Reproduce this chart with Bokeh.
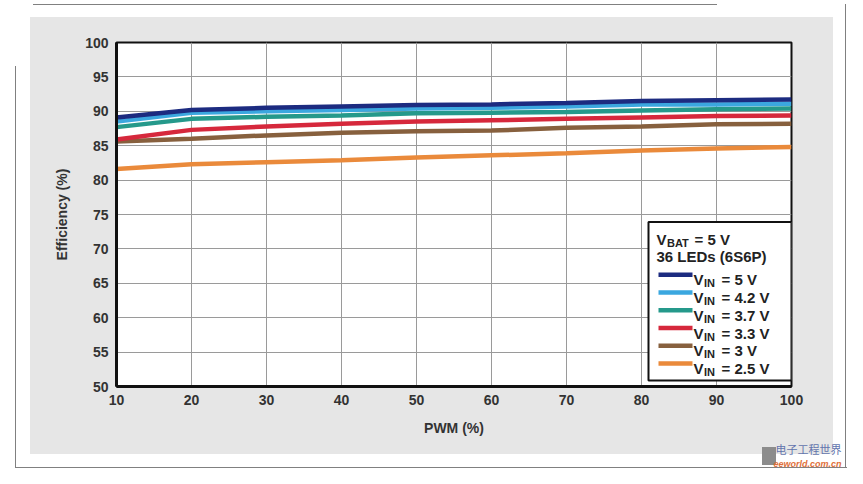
from bokeh.plotting import figure
from bokeh.models import BoxAnnotation, Label, FixedTicker, Range1d, Title
from bokeh.embed import file_html
from bokeh.resources import INLINE

# efficiency vs PWM duty, VBAT = 5 V, 36 LEDs (6S6P)
pwm = [10, 20, 30, 40, 50, 60, 70, 80, 90, 100]
vin_5 = [89.1, 90.2, 90.5, 90.7, 90.9, 91.0, 91.2, 91.5, 91.6, 91.7]
vin_4v2 = [88.5, 89.8, 90.0, 90.2, 90.4, 90.5, 90.7, 91.0, 91.0, 91.1]
vin_3v7 = [87.7, 88.9, 89.2, 89.4, 89.7, 89.8, 89.9, 90.1, 90.3, 90.4]
vin_3v3 = [85.9, 87.3, 87.8, 88.2, 88.5, 88.7, 88.9, 89.1, 89.3, 89.4]
vin_3 = [85.6, 86.0, 86.5, 86.9, 87.1, 87.2, 87.6, 87.8, 88.1, 88.2]
vin_2v5 = [81.6, 82.3, 82.6, 82.9, 83.3, 83.6, 83.9, 84.3, 84.6, 84.8]

series = [vin_5, vin_4v2, vin_3v7, vin_3v3, vin_3, vin_2v5]
names = ["5 V", "4.2 V", "3.7 V", "3.3 V", "3 V", "2.5 V"]
colors = ["#1c2b80", "#3ba7df", "#25998b", "#d6283c", "#87603e", "#ea8a3b"]

x_ticks = list(range(10, 101, 10))
y_ticks = list(range(50, 101, 5))

FONT = "Liberation Sans"
TXT = "#333333"

p = figure(width=847, height=468, x_range=Range1d(10, 100), y_range=Range1d(50, 100),
           output_backend="svg", toolbar_location=None,
           min_border_left=116, min_border_right=56, min_border_top=42, min_border_bottom=81,
           x_axis_label="PWM (%)", y_axis_label="Efficiency (%)")

p.background_fill_color = "white"
p.border_fill_color = None
p.outline_line_color = "#111111"
p.outline_line_width = 2

# grey panel, scan frame lines and logo block painted behind the transparent canvas
rects = [
    ((33, 4), (684, 1), "#808080"),
    ((15, 66), (1, 402), "#808080"),
    ((15, 467), (832, 1), "#808080"),
    ((845, 4), (1, 463), "#808080"),
    ((762, 447), (14, 18), "#8c8c8c"),
    ((30, 17), (803, 437), "#e6e6e6"),
]
p.styles = {
    "background-image": ", ".join("linear-gradient(%s, %s)" % (c, c) for _, _, c in rects),
    "background-position": ", ".join("%dpx %dpx" % pos for pos, _, _ in rects),
    "background-size": ", ".join("%dpx %dpx" % sz for _, sz, _ in rects),
    "background-repeat": "no-repeat",
    "background-color": "white",
}

p.xaxis.ticker = FixedTicker(ticks=x_ticks)
p.yaxis.ticker = FixedTicker(ticks=y_ticks)
for ax in (p.xaxis, p.yaxis):
    ax.axis_line_color = "#111111"
    ax.axis_line_width = 3
    ax.major_tick_line_color = None
    ax.minor_tick_line_color = None
    ax.major_tick_out = 0
    ax.major_tick_in = 0
    ax.major_label_text_font = FONT
    ax.major_label_text_font_style = "bold"
    ax.major_label_text_font_size = "14px"
    ax.major_label_text_color = TXT
    ax.axis_label_text_font = FONT
    ax.axis_label_text_font_style = "bold"
    ax.axis_label_text_font_size = "14px"
    ax.axis_label_text_color = TXT
p.xaxis.major_label_standoff = 8
p.xaxis.axis_label_standoff = 12
p.yaxis.major_label_standoff = 8
p.yaxis.axis_label_standoff = 12

p.grid.grid_line_color = "#9a9a9a"
p.grid.grid_line_width = 1


# page pixel -> data coordinate, for the legend only
def dx(px):
    return 10 + (px - 116) * 90 / 675


def dy(py):
    return 50 + (387 - py) * 50 / 345


# curves, lowest first so the 5 V line sits on top
for ys, c in reversed(list(zip(series, colors))):
    p.line(pwm, ys, line_color=c, line_width=4.5)

# legend box with subscripts
p.add_layout(BoxAnnotation(left=dx(648), right=dx(791), top=dy(222), bottom=dy(381),
                           fill_color="white", fill_alpha=1, line_color="#111111",
                           line_alpha=1, line_width=2))


def lab(x, y, text, size="15px"):
    p.add_layout(Label(x=dx(x), y=dy(y), text=text, text_font=FONT, text_font_style="bold",
                       text_font_size=size, text_color="#222222", text_baseline="alphabetic"))


lab(656, 239.5, "V")
lab(666.5, 243, "BAT", "11px")
lab(694, 239.5, "= 5 V")
lab(656, 257, "36 LEDs (6S6P)")

for i, (n, c) in enumerate(zip(names, colors)):
    yl = 275 + 17.8 * i
    p.add_layout(BoxAnnotation(left=dx(658), right=dx(692), top=dy(yl - 2.3), bottom=dy(yl + 2.3),
                               fill_color=c, fill_alpha=1, line_color=None))
    lab(693, yl + 5, "V")
    lab(703.5, yl + 8.5, "IN", "11px")
    lab(721, yl + 5, "= " + n)

# watermark
p.add_layout(Title(text="电子工程世界", align="right", offset=-50, text_font="Noto Sans CJK SC",
                   text_font_style="normal", text_font_size="11px", text_color="#6274ad",
                   standoff=0), "below")
p.add_layout(Title(text="eeworld.com.cn", align="right", offset=-50, text_font=FONT,
                   text_font_style="bold italic", text_font_size="9px", text_color="#e0703a",
                   standoff=0), "below")

open("out.html", "w").write(file_html(p, INLINE))
